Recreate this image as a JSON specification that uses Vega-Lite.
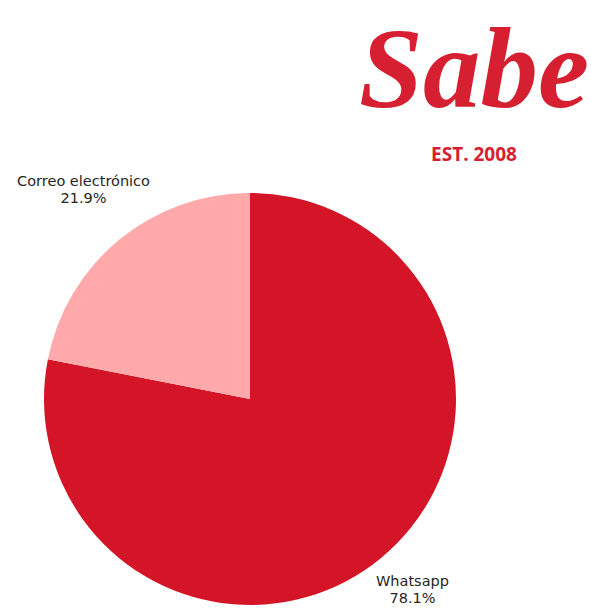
{
  "$schema": "https://vega.github.io/schema/vega-lite/v6.json",
  "width": 412,
  "height": 412,
  "autosize": "none",
  "padding": {"left": 44, "top": 193, "right": 135, "bottom": 7},
  "background": "white",
  "title": {
    "text": "Sabe",
    "subtitle": "EST. 2008",
    "anchor": "middle",
    "frame": "group",
    "dx": 224,
    "offset": 8,
    "font": "Liberation Serif",
    "fontStyle": "italic",
    "fontWeight": "bold",
    "fontSize": 115,
    "color": "#D61F30",
    "subtitleFont": "Open Sans",
    "subtitleFontWeight": "bold",
    "subtitleFontSize": 19,
    "subtitleColor": "#D61F30",
    "subtitlePadding": 15
  },
  "data": {
    "values": [
      {"canal": "Whatsapp", "pct": 78.1, "orden": 1, "label": ["Whatsapp", "78.1%"]},
      {"canal": "Correo electrónico", "pct": 21.9, "orden": 2, "label": ["Correo electrónico", "21.9%"]}
    ]
  },
  "encoding": {
    "theta": {"field": "pct", "type": "quantitative", "stack": true},
    "order": {"field": "orden", "type": "quantitative"}
  },
  "layer": [
    {
      "mark": {"type": "arc", "strokeWidth": 0},
      "encoding": {
        "color": {
          "field": "canal",
          "type": "nominal",
          "scale": {"domain": ["Whatsapp", "Correo electrónico"], "range": ["#D41528", "#FFA9AB"]},
          "legend": null
        }
      }
    },
    {
      "mark": {"type": "text", "radius": 259, "dy": -17, "dx": -2, "font": "DejaVu Sans", "fontSize": 14.5, "color": "#252525", "lineHeight": 17, "baseline": "middle", "align": "center"},
      "encoding": {"text": {"field": "label"}}
    }
  ]
}
